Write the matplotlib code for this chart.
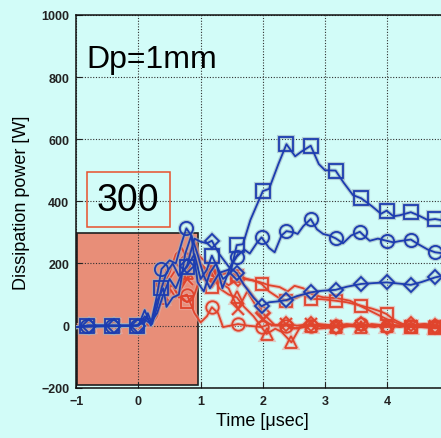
import matplotlib
matplotlib.use("Agg")
import matplotlib.pyplot as plt
from matplotlib.patches import Rectangle

plt.rcParams['font.family'] = ['Liberation Sans', 'DejaVu Sans']

# ---------------- data ----------------
# Blue, squares
b_sq_x = [-1.0, -0.82, -0.42, -0.03, 0.1, 0.15, 0.22, 0.3, 0.37, 0.45, 0.55, 0.65, 0.78, 0.9, 1.0, 1.1, 1.18, 1.36, 1.48,
          1.58, 1.68, 1.8, 2.0, 2.1, 2.25, 2.38, 2.52, 2.62, 2.77, 2.9, 3.0, 3.17, 3.3, 3.45, 3.58, 3.75, 3.9, 3.99,
          4.1, 4.2, 4.38, 4.5, 4.65, 4.77, 5.0]
b_sq_y = [-5, 0, 0, 0, 10, 40, 5, 60, 120, 170, 200, 160, 189, 230, 150, 180, 225, 150, 170,
          259, 262, 340, 433, 440, 520, 584, 545, 560, 579, 520, 500, 499, 460, 420, 410, 385, 360, 370,
          352, 355, 365, 355, 340, 343, 335]
b_sq_mk = [1, 2, 3, 8, 12, 16, 19, 22, 25, 28, 31, 34, 37, 40, 43]

# Blue, circles
b_ci_x = [-1.0, -0.82, -0.42, -0.03, 0.1, 0.2, 0.3, 0.37, 0.5, 0.6, 0.7, 0.77, 0.85, 0.95, 1.05, 1.15, 1.3, 1.45,
          1.58, 1.7, 1.79, 1.9, 1.98, 2.1, 2.19, 2.3, 2.38, 2.5, 2.56, 2.65, 2.77, 2.87, 2.97, 3.07, 3.17, 3.29,
          3.42, 3.56, 3.65, 3.72, 3.85, 3.99, 4.1, 4.2, 4.38, 4.5, 4.65, 4.77, 5.0]
b_ci_y = [-5, 0, 0, 0, 20, 5, 100, 182, 210, 200, 270, 313, 290, 230, 160, 120, 170, 180,
          222, 245, 232, 265, 284, 250, 236, 290, 304, 300, 295, 320, 343, 310, 295, 290, 281, 265,
          290, 302, 285, 273, 280, 273, 268, 272, 277, 262, 245, 236, 230]
b_ci_mk = [1, 2, 3, 7, 11, 18, 22, 26, 30, 34, 37, 41, 44, 47]

# Blue, diamonds
b_di_x = [-1.0, -0.8, -0.4, 0.0, 0.1, 0.2, 0.3, 0.4, 0.5, 0.6, 0.7, 0.78, 0.9, 1.0, 1.1, 1.18, 1.3, 1.45, 1.58,
          1.7, 1.85, 1.98, 2.1, 2.25, 2.38, 2.55, 2.77, 2.95, 3.17, 3.35, 3.58, 3.8, 3.99, 4.2, 4.38, 4.55, 4.77, 5.0]
b_di_y = [-5, 0, 0, 0, 30, 10, 40, 100, 150, 120, 170, 193, 280, 270, 265, 273, 230, 190, 169,
          130, 90, 62, 75, 78, 82, 95, 107, 112, 115, 125, 134, 137, 139, 135, 131, 140, 155, 165]
b_di_mk = [1, 2, 3, 11, 15, 18, 21, 24, 26, 28, 30, 32, 34, 36]

# Blue, plain line
b_ln_x = [-1.0, 0.0, 0.1, 0.2, 0.3, 0.4, 0.45, 0.55, 0.65, 0.75, 0.85, 0.95, 1.05, 1.15, 1.25, 1.35, 1.5, 1.6]
b_ln_y = [-5, 0, 50, 0, 80, 120, 60, 90, 100, 230, 290, 140, 110, 170, 200, 120, 200, 230]

# Red, squares
r_sq_x = [-1.0, -0.8, -0.4, 0.0, 0.2, 0.3, 0.37, 0.5, 0.6, 0.78, 0.9, 1.0, 1.1, 1.18, 1.3, 1.45, 1.58, 1.7, 1.85,
          1.98, 2.1, 2.25, 2.38, 2.55, 2.65, 2.77, 2.95, 3.17, 3.35, 3.58, 3.75, 3.9, 3.99, 4.1, 4.25, 4.38, 4.55,
          4.77, 5.0]
r_sq_y = [0, 0, 0, 0, 10, 80, 118, 150, 110, 75, 100, 160, 140, 123, 160, 175, 161, 150, 145,
          134, 110, 90, 80, 90, 100, 86, 85, 80, 75, 64, 55, 45, 37, 20, 5, -5, -5, -9, -5]
r_sq_mk = [1, 2, 3, 6, 9, 13, 16, 19, 22, 25, 27, 29, 32, 35, 37]

# Red, plain line (upper decay)
r_ln_x = [0.0, 0.2, 0.3, 0.45, 0.6, 0.75, 0.9, 1.0, 1.15, 1.3, 1.45, 1.58, 1.75, 1.95, 2.1, 2.27, 2.4, 2.51, 2.65,
          2.8, 2.97, 3.2, 3.4, 3.6, 3.8, 4.0, 4.2, 4.4, 4.6, 4.8, 5.0]
r_ln_y = [0, 20, 90, 180, 200, 170, 240, 220, 190, 170, 165, 160, 150, 140, 130, 124, 110, 128, 120,
          100, 91, 88, 80, 60, 40, 20, 5, 0, -5, 0, 0]

# Red, circles
r_ci_x = [-1.0, -0.8, -0.4, 0.0, 0.2, 0.3, 0.4, 0.55, 0.65, 0.78, 0.9, 1.0, 1.1, 1.18, 1.28, 1.36, 1.48, 1.6, 1.75,
          1.98, 2.1, 2.25, 2.38, 2.55, 2.77, 2.9, 3.17, 3.3, 3.58, 3.75, 3.99, 4.2, 4.38, 4.6, 4.77, 5.0]
r_ci_y = [0, 0, 0, 0, 5, 60, 110, 130, 90, 100, 40, 10, 30, 59, 40, -5, 0, 5, 0,
          -5, 5, 0, 0, -10, 0, 5, 0, -5, 5, 0, 0, -5, 0, 5, 0, 0]
r_ci_mk = [1, 2, 3, 6, 9, 13, 17, 19, 22, 24, 26, 28, 30, 32, 34]

# Red, triangles
r_tr_x = [-1.0, -0.8, -0.4, 0.0, 0.2, 0.3, 0.4, 0.5, 0.6, 0.7, 0.78, 0.9, 1.0, 1.1, 1.18, 1.3, 1.45, 1.58, 1.7,
          1.85, 2.06, 2.2, 2.3, 2.46, 2.6, 2.77, 2.9, 3.17, 3.3, 3.58, 3.75, 3.99, 4.2, 4.38, 4.6, 4.77, 5.0]
r_tr_y = [0, 0, 0, 0, 5, 40, 90, 150, 180, 140, 170, 230, 190, 150, 170, 120, 100, 91, 60,
          30, -27, -10, -20, -54, -5, 0, -10, -5, 0, -5, 5, 0, 0, -5, 0, -5, 0]
r_tr_mk = [1, 2, 3, 6, 10, 14, 17, 20, 23, 25, 27, 29, 31, 33, 35]

# Red, crosses
r_x_x = [-1.0, -0.8, -0.4, 0.0, 0.2, 0.3, 0.4, 0.5, 0.6, 0.78, 0.9, 1.0, 1.1, 1.18, 1.3, 1.45, 1.6, 1.75, 1.9,
         2.0, 2.15, 2.38, 2.5, 2.77, 2.95, 3.17, 3.35, 3.58, 3.8, 3.99, 4.2, 4.38, 4.6, 4.77, 5.0]
r_x_y = [0, 0, 0, 0, 0, 30, 100, 120, 90, 150, 250, 200, 170, 190, 140, 120, 54, 110, 60,
         20, 0, 5, -10, 5, -5, 0, 5, 0, -5, 5, 0, 0, 5, 0, 0]
r_x_mk = [1, 2, 3, 6, 9, 13, 16, 19, 21, 23, 25, 27, 29, 31, 33]

# Red, diamonds
r_di_x = [-1.0, -0.8, -0.4, 0.0, 0.2, 0.3, 0.4, 0.5, 0.6, 0.7, 0.78, 0.9, 1.0, 1.1, 1.18, 1.3, 1.45, 1.6, 1.75,
          1.9, 2.0, 2.2, 2.38, 2.55, 2.77, 2.95, 3.17, 3.35, 3.58, 3.8, 3.99, 4.2, 4.38, 4.6, 4.77, 5.0]
r_di_y = [0, 0, 0, 0, 5, 50, 130, 170, 230, 250, 210, 280, 200, 180, 160, 150, 130, 150, 120,
          80, 40, 0, 5, 0, 5, 0, -5, 0, 5, 0, -5, 0, 5, 0, 0, 0]
r_di_mk = [1, 2, 3, 6, 10, 14, 17, 20, 22, 24, 26, 28, 30, 32, 34]

x_ticks = [-1, 0, 1, 2, 3, 4, 5]
y_ticks = [-200, 0, 200, 400, 600, 800, 1000]

# ---------------- style ----------------
BG = '#d2fcf8'
BLUE = '#1c3cb0'
RED = '#e0442c'
SALMON = '#e88e78'
HALO_B = '#98b0c0'
HALO_R = '#e8a8a0'

fig = plt.figure(figsize=(4.41, 4.39), dpi=100, facecolor=BG)
ax = fig.add_axes([0.173, 0.1146, 0.846, 0.849], facecolor=BG)

ax.add_patch(Rectangle((-0.99, -192), 1.94, 490, facecolor=SALMON, edgecolor='#202020',
                       linewidth=1.2, zorder=0.5))


def series(xs, ys, mk, marker, color, halo, ms, z):
    # soft halo underneath
    ax.plot(xs, ys, color=halo, lw=3.0, marker=marker, markevery=mk, ms=ms,
            mfc='none', mec=halo, mew=3.0, alpha=0.6, zorder=z - 0.1)
    ax.plot(xs, ys, color=color, lw=1.3, marker=marker, markevery=mk, ms=ms,
            mfc='none', mec=color, mew=1.3, zorder=z)


# red first (drawn below blue)
ax.plot(r_ln_x, r_ln_y, color=HALO_R, lw=3.0, alpha=0.6, zorder=2.4)
ax.plot(r_ln_x, r_ln_y, color=RED, lw=1.3, zorder=2.5)
series(r_sq_x, r_sq_y, r_sq_mk, 's', RED, HALO_R, 9, 2.5)
series(r_ci_x, r_ci_y, r_ci_mk, 'o', RED, HALO_R, 9, 2.5)
series(r_tr_x, r_tr_y, r_tr_mk, '^', RED, HALO_R, 9, 2.5)
series(r_x_x, r_x_y, r_x_mk, 'x', RED, HALO_R, 9, 2.5)
series(r_di_x, r_di_y, r_di_mk, 'D', RED, HALO_R, 7, 2.5)

ax.plot(b_ln_x, b_ln_y, color=HALO_B, lw=3.0, alpha=0.6, zorder=2.9)
ax.plot(b_ln_x, b_ln_y, color=BLUE, lw=1.3, zorder=3)
series(b_di_x, b_di_y, b_di_mk, 'D', BLUE, HALO_B, 7.5, 3)
series(b_ci_x, b_ci_y, b_ci_mk, 'o', BLUE, HALO_B, 9.5, 3)
series(b_sq_x, b_sq_y, b_sq_mk, 's', BLUE, HALO_B, 9.5, 3)

ax.set_xlim(-1, 5)
ax.set_ylim(-200, 1000)
ax.set_xticks(x_ticks)
ax.set_yticks(y_ticks)
ax.tick_params(direction='in', length=4, width=0.8, labelsize=9, colors='#222222', pad=5)
for lab in ax.get_xticklabels() + ax.get_yticklabels():
    lab.set_fontweight('bold')
ax.grid(True, linestyle=(0, (1, 1.5)), color='#303030', linewidth=0.8)
for s in ax.spines.values():
    s.set_linewidth(1.1)
    s.set_color('#111111')

ax.set_xlabel('Time [μsec]', fontsize=13, labelpad=4)
ax.set_ylabel('Dissipation power [W]', fontsize=13, labelpad=8)

ax.text(-0.83, 832, 'Dp=1mm', fontsize=23, va='baseline', ha='left', color='black', zorder=5)
ax.add_patch(Rectangle((-0.833, 317), 1.339, 177, facecolor='none', edgecolor='#e8502c',
                       linewidth=1.1, zorder=5))
ax.text(-0.164, 404, '300', fontsize=27, ha='center', va='center', color='black', zorder=5)

fig.savefig('out.png', dpi=100, facecolor=BG)
